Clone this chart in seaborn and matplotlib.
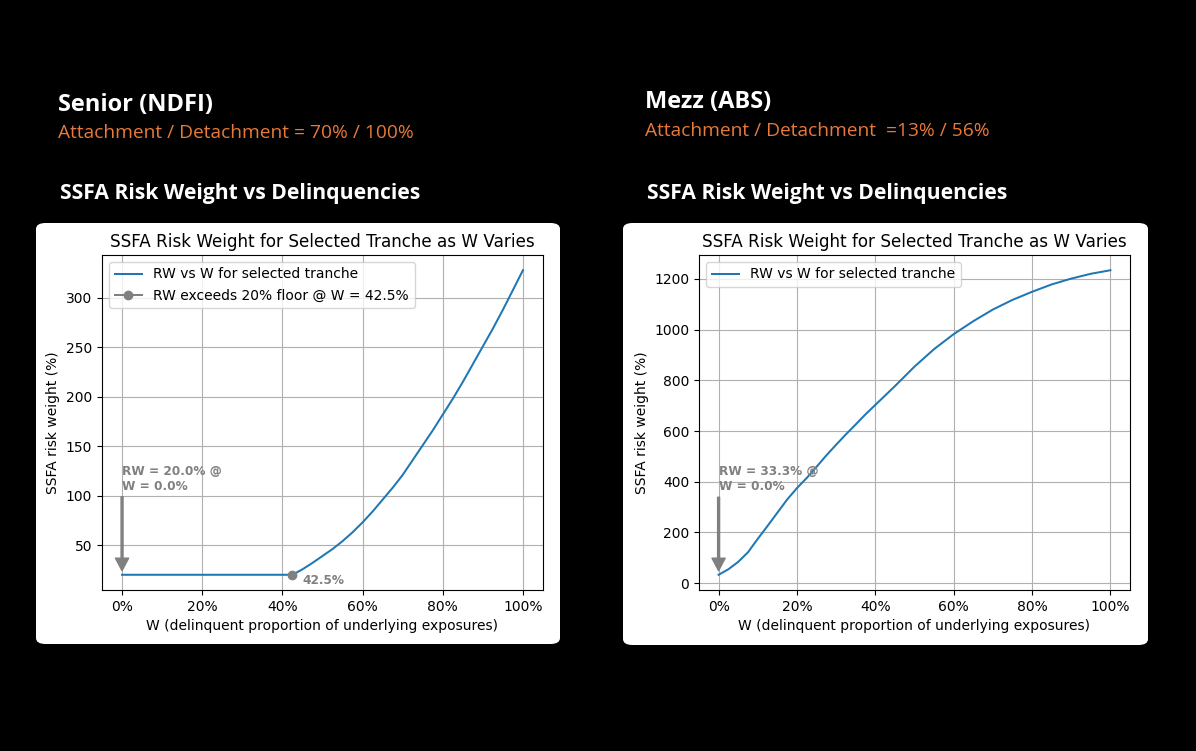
import matplotlib
matplotlib.use("Agg")
import matplotlib.pyplot as plt
import seaborn as sns
import pandas as pd
from matplotlib.patches import FancyBboxPatch
from matplotlib.ticker import PercentFormatter

# ---- data ----
# Senior (NDFI): A/D = 70% / 100%
senior_w = [0.0, 0.10, 0.20, 0.30, 0.40, 0.425, 0.45, 0.475, 0.50, 0.525,
            0.55, 0.575, 0.60, 0.625, 0.65, 0.675, 0.70, 0.725, 0.75, 0.775,
            0.80, 0.825, 0.85, 0.875, 0.90, 0.925, 0.95, 0.975, 1.0]
senior_rw = [20, 20, 20, 20, 20, 20, 25.5, 32, 39, 46,
             54, 63, 73, 84, 96, 108, 121, 136, 151, 166,
             182, 198, 215, 233, 251, 269, 288, 308, 328]
senior_floor_w = 0.425
senior_floor_rw = 20.0

# Mezz (ABS): A/D = 13% / 56%
mezz_w = [0.0, 0.025, 0.05, 0.075, 0.10, 0.125, 0.15, 0.175, 0.20, 0.225,
          0.25, 0.275, 0.30, 0.325, 0.35, 0.375, 0.40, 0.45, 0.50, 0.55,
          0.60, 0.65, 0.70, 0.75, 0.80, 0.85, 0.90, 0.95, 1.0]
mezz_rw = [33.3, 55, 84, 122, 175, 226, 278, 330, 375, 415,
           459, 504, 546, 587, 626, 666, 703, 777, 854, 923,
           982, 1033, 1079, 1117, 1149, 1178, 1201, 1220, 1234]

panel_titles = ["Senior (NDFI)", "Mezz (ABS)"]
panel_subs = ["Attachment / Detachment = 70% / 100%",
              "Attachment / Detachment  =13% / 56%"]
section_title = "SSFA Risk Weight vs Delinquencies"
chart_title = "SSFA Risk Weight for Selected Tranche as W Varies"

W, H = 1196, 751
fig = plt.figure(figsize=(W / 100, H / 100), dpi=100, facecolor="black")

def fx(px):
    return px / W

def fy(py):
    return 1 - py / H

# white rounded panels (behind the axes)
for x0, x1, y0, y1 in [(36, 560, 223, 644), (623, 1148, 223, 645)]:
    fig.patches.append(FancyBboxPatch(
        (fx(x0), fy(y1)), fx(x1 - x0), (y1 - y0) / H,
        boxstyle="round,pad=0,rounding_size=0.008",
        transform=fig.transFigure, facecolor="white", edgecolor="none", zorder=-5))

# headings
orange = "#E8793A"
hfont = ["Open Sans", "DejaVu Sans"]
fig.text(fx(58), fy(105), panel_titles[0], color="white", fontsize=17,
         fontweight="bold", family=hfont, va="center")
fig.text(fx(645), fy(102), panel_titles[1], color="white", fontsize=17,
         fontweight="bold", family=hfont, va="center")
fig.text(fx(58), fy(133), panel_subs[0], color=orange, fontsize=13.8,
         family=hfont, va="center")
fig.text(fx(645), fy(131), panel_subs[1], color=orange, fontsize=13.8,
         family=hfont, va="center")
fig.text(fx(60), fy(194), section_title, color="white", fontsize=15.2,
         fontweight="bold", family=hfont, va="center")
fig.text(fx(647), fy(194), section_title, color="white", fontsize=15.2,
         fontweight="bold", family=hfont, va="center")

fs = 10
blue = "#1f77b4"

def setup(ax):
    ax.set_facecolor("white")
    ax.grid(True, color="#b0b0b0", linewidth=0.8)
    ax.set_axisbelow(True)
    ax.xaxis.set_major_formatter(PercentFormatter(xmax=1, decimals=0))
    ax.tick_params(labelsize=fs, colors="black")
    for s in ax.spines.values():
        s.set_color("black")
        s.set_linewidth(0.8)
    ax.set_title(chart_title, fontsize=12.1)
    ax.set_xlabel("W (delinquent proportion of underlying exposures)", fontsize=fs)
    ax.set_ylabel("SSFA risk weight (%)", fontsize=fs)

arrowp = dict(facecolor="gray", edgecolor="gray", width=1.4, headwidth=9.5,
              headlength=9, shrink=0.05)

def start_note(ax, x, y, y_text, label):
    ax.annotate("", (x, y), xytext=(x, y_text), arrowprops=arrowp)
    ax.text(x, y_text, label, color="gray", fontweight="bold", fontsize=8.7,
            ha="left", va="bottom")

# ---- left: senior ----
ax1 = fig.add_axes([fx(102), fy(590), fx(543 - 102), (590 - 255) / H])
df1 = pd.DataFrame({"W": senior_w, "RW": senior_rw})
sns.lineplot(data=df1, x="W", y="RW", ax=ax1, color=blue, linewidth=1.45,
             label="RW vs W for selected tranche")
ax1.plot([senior_floor_w], [senior_floor_rw], "o-", color="gray", markersize=6,
         linewidth=1.45, label="RW exceeds 20% floor @ W = 42.5%")
ax1.annotate("42.5%", (senior_floor_w, senior_floor_rw), xytext=(7, -4),
             textcoords="offset points", color="gray", fontweight="bold",
             fontsize=8.7, va="center")
start_note(ax1, senior_w[0], senior_rw[0], 103, "RW = 20.0% @\nW = 0.0%")
setup(ax1)
ax1.legend(loc="upper left", fontsize=fs)

# ---- right: mezz ----
ax2 = fig.add_axes([fx(699), fy(590), fx(1130 - 699), (590 - 255) / H])
df2 = pd.DataFrame({"W": mezz_w, "RW": mezz_rw})
sns.lineplot(data=df2, x="W", y="RW", ax=ax2, color=blue, linewidth=1.45,
             label="RW vs W for selected tranche")
start_note(ax2, mezz_w[0], mezz_rw[0], 355, "RW = 33.3% @\nW = 0.0%")
setup(ax2)
ax2.legend(loc="upper left", fontsize=fs)

fig.savefig("out.png", dpi=100, facecolor="black")
